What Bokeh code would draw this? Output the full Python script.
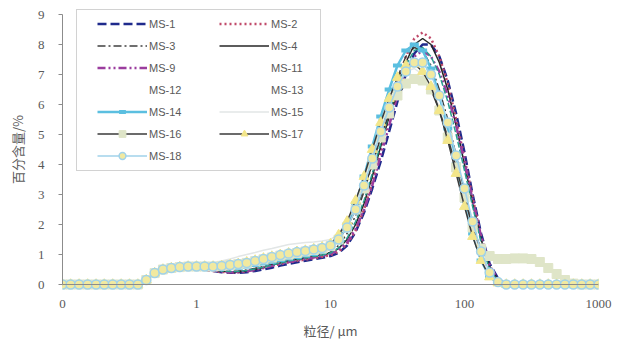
from bokeh.plotting import figure
from bokeh.models import Range1d, FixedTicker, Legend, LegendItem, Span
from bokeh.embed import file_html
from bokeh.resources import INLINE

# particle size grid (um)
size_um = [0.1, 0.115, 0.133, 0.154, 0.178, 0.205, 0.237, 0.274, 0.316, 0.365,
           0.422, 0.487, 0.562, 0.649, 0.75, 0.866, 1.0, 1.15, 1.33, 1.54,
           1.78, 2.05, 2.37, 2.74, 3.16, 3.65, 4.22, 4.87, 5.62, 6.49,
           7.5, 8.66, 10.0, 11.5, 13.3, 15.4, 17.8, 20.5, 23.7, 27.4,
           31.6, 36.5, 42.2, 48.7, 56.2, 64.9, 75.0, 86.6, 100, 115,
           133, 154, 178, 205, 237, 274, 316, 365, 422, 487,
           562, 649, 750, 866, 1000]

ms1 = [0, 0, 0, 0, 0, 0, 0, 0, 0, 0,
       0.15, 0.38, 0.5, 0.55, 0.57, 0.57, 0.55, 0.5, 0.45, 0.41,
       0.39, 0.39, 0.41, 0.45, 0.5, 0.56, 0.63, 0.69, 0.74, 0.79,
       0.84, 0.89, 0.95, 1.05, 1.3, 1.75, 2.4, 3.2, 4.1, 5.1,
       6.1, 7.0, 7.7, 8.0, 8.0, 7.6, 6.8, 5.7, 4.4, 3.0,
       1.7, 0.7, 0.2, 0, 0, 0, 0, 0, 0, 0,
       0, 0, 0, 0, 0]
ms2 = [0, 0, 0, 0, 0, 0, 0, 0, 0, 0,
       0.15, 0.38, 0.5, 0.55, 0.57, 0.57, 0.55, 0.5, 0.45, 0.42,
       0.4, 0.41, 0.43, 0.5, 0.56, 0.62, 0.68, 0.74, 0.79, 0.83,
       0.88, 0.92, 0.98, 1.1, 1.35, 1.8, 2.5, 3.4, 4.5, 5.6,
       6.7, 7.6, 8.2, 8.4, 8.2, 7.6, 6.7, 5.5, 4.2, 2.9,
       1.6, 0.6, 0.12, 0, 0, 0, 0, 0, 0, 0,
       0, 0, 0, 0, 0]
ms3 = [0, 0, 0, 0, 0, 0, 0, 0, 0, 0,
       0.15, 0.38, 0.5, 0.55, 0.57, 0.58, 0.57, 0.55, 0.5, 0.46,
       0.44, 0.45, 0.48, 0.54, 0.6, 0.67, 0.74, 0.8, 0.85, 0.9,
       0.95, 1.0, 1.08, 1.3, 1.7, 2.3, 3.1, 4.0, 5.0, 6.0,
       6.9, 7.6, 7.9, 7.8, 7.3, 6.5, 5.5, 4.3, 3.1, 1.9,
       0.9, 0.3, 0.05, 0, 0, 0, 0, 0, 0, 0,
       0, 0, 0, 0, 0]
ms4 = [0, 0, 0, 0, 0, 0, 0, 0, 0, 0,
       0.15, 0.38, 0.5, 0.55, 0.57, 0.58, 0.57, 0.55, 0.5, 0.45,
       0.42, 0.42, 0.45, 0.5, 0.57, 0.65, 0.72, 0.78, 0.83, 0.88,
       0.93, 0.98, 1.05, 1.2, 1.5, 2.0, 2.7, 3.6, 4.6, 5.6,
       6.6, 7.4, 8.0, 8.2, 8.0, 7.4, 6.5, 5.3, 4.0, 2.7,
       1.5, 0.6, 0.15, 0, 0, 0, 0, 0, 0, 0,
       0, 0, 0, 0, 0]
ms9 = [0, 0, 0, 0, 0, 0, 0, 0, 0, 0,
       0.15, 0.38, 0.5, 0.55, 0.57, 0.58, 0.56, 0.53, 0.48, 0.44,
       0.41, 0.41, 0.44, 0.49, 0.55, 0.62, 0.69, 0.75, 0.8, 0.85,
       0.9, 0.95, 1.02, 1.15, 1.4, 1.85, 2.5, 3.3, 4.3, 5.3,
       6.3, 7.1, 7.6, 7.8, 7.6, 7.1, 6.3, 5.3, 4.1, 2.8,
       1.6, 0.65, 0.15, 0, 0, 0, 0, 0, 0, 0,
       0, 0, 0, 0, 0]
ms11 = [0, 0, 0, 0, 0, 0, 0, 0, 0, 0,
        0.15, 0.38, 0.5, 0.55, 0.57, 0.58, 0.57, 0.54, 0.49, 0.45,
        0.43, 0.44, 0.47, 0.52, 0.58, 0.65, 0.72, 0.78, 0.83, 0.88,
        0.93, 0.98, 1.05, 1.22, 1.55, 2.1, 2.8, 3.7, 4.7, 5.7,
        6.6, 7.3, 7.8, 7.9, 7.6, 7.0, 6.1, 5.0, 3.8, 2.6,
        1.4, 0.5, 0.1, 0, 0, 0, 0, 0, 0, 0,
        0, 0, 0, 0, 0]
ms14 = [0, 0, 0, 0, 0, 0, 0, 0, 0, 0,
        0.15, 0.38, 0.5, 0.55, 0.58, 0.6, 0.6, 0.59, 0.58, 0.56,
        0.55, 0.56, 0.6, 0.65, 0.7, 0.76, 0.82, 0.87, 0.92, 0.97,
        1.02, 1.08, 1.2, 1.5, 2.0, 2.7, 3.6, 4.6, 5.6, 6.5,
        7.3, 7.8, 8.0, 7.8, 7.2, 6.3, 5.2, 4.0, 2.8, 1.7,
        0.8, 0.25, 0.05, 0, 0, 0, 0, 0, 0, 0,
        0, 0, 0, 0, 0]
ms15 = [0, 0, 0, 0, 0, 0, 0, 0, 0, 0,
        0.15, 0.38, 0.5, 0.56, 0.6, 0.62, 0.65, 0.68, 0.72, 0.78,
        0.85, 0.93, 1.0, 1.07, 1.14, 1.2, 1.27, 1.33, 1.37, 1.4,
        1.42, 1.45, 1.5, 1.7, 2.1, 2.7, 3.5, 4.4, 5.3, 6.1,
        6.7, 7.1, 7.2, 7.0, 6.6, 5.9, 5.0, 4.0, 2.9, 1.8,
        0.9, 0.3, 0.05, 0, 0, 0, 0, 0, 0, 0,
        0, 0, 0, 0, 0]
ms16 = [0, 0, 0, 0, 0, 0, 0, 0, 0, 0,
        0.15, 0.38, 0.5, 0.55, 0.58, 0.6, 0.6, 0.6, 0.6, 0.62,
        0.65, 0.68, 0.72, 0.78, 0.84, 0.9, 0.96, 1.0, 1.05, 1.1,
        1.15, 1.2, 1.28, 1.5, 1.9, 2.5, 3.2, 4.0, 4.9, 5.7,
        6.3, 6.7, 6.85, 6.8, 6.5, 5.8, 4.9, 3.9, 2.9, 1.9,
        1.2, 0.95, 0.85, 0.85, 0.87, 0.87, 0.85, 0.75, 0.55, 0.35,
        0.15, 0.03, 0, 0, 0]
ms17 = [0, 0, 0, 0, 0, 0, 0, 0, 0, 0,
        0.15, 0.38, 0.5, 0.55, 0.58, 0.6, 0.6, 0.6, 0.6, 0.62,
        0.65, 0.69, 0.74, 0.8, 0.87, 0.93, 0.99, 1.04, 1.09, 1.13,
        1.18, 1.24, 1.35, 1.65, 2.1, 2.8, 3.6, 4.5, 5.4, 6.2,
        6.9, 7.3, 7.35, 7.1, 6.6, 5.8, 4.8, 3.7, 2.6, 1.6,
        0.8, 0.25, 0.05, 0, 0, 0, 0, 0, 0, 0,
        0, 0, 0, 0, 0]
ms18 = [0, 0, 0, 0, 0, 0, 0, 0, 0, 0,
        0.15, 0.38, 0.5, 0.55, 0.58, 0.6, 0.6, 0.6, 0.6, 0.62,
        0.65, 0.68, 0.72, 0.78, 0.85, 0.92, 0.98, 1.03, 1.08, 1.12,
        1.17, 1.22, 1.3, 1.5, 1.9, 2.5, 3.3, 4.2, 5.1, 5.9,
        6.6, 7.1, 7.4, 7.4, 7.0, 6.3, 5.4, 4.3, 3.2, 2.1,
        1.1, 0.4, 0.08, 0, 0, 0, 0, 0, 0, 0,
        0, 0, 0, 0, 0]

y_ticks = [0, 1, 2, 3, 4, 5, 6, 7, 8, 9]
x_ticks = [0.1, 1, 10, 100, 1000]
x_tick_labels = ["0", "1", "10", "100", "1000"]

p = figure(width=624, height=346, x_axis_type="log", title=None,
           x_range=Range1d(0.1, 1000), y_range=Range1d(-0.2, 9.2),
           output_backend="svg", toolbar_location=None,
           min_border_left=62, min_border_right=26, min_border_top=8, min_border_bottom=56)
p.outline_line_color = None
p.grid.visible = False
p.background_fill_color = "white"

axis_grey = "#8c8c8c"
text_grey = "#595959"

# y axis
p.yaxis.ticker = FixedTicker(ticks=y_ticks)
p.yaxis.bounds = (0, 9)
p.yaxis.axis_line_color = axis_grey
p.yaxis.major_tick_line_color = axis_grey
p.yaxis.major_tick_out = 4
p.yaxis.major_tick_in = 0
p.yaxis.minor_tick_line_color = None
p.yaxis.major_label_standoff = 14
p.yaxis.axis_label = "百分含量/%"
p.yaxis.axis_label_standoff = 8

# x axis
p.xaxis.ticker = FixedTicker(ticks=x_ticks)
p.xaxis.major_label_overrides = {t: l for t, l in zip(x_ticks, x_tick_labels)}
p.xaxis.axis_line_color = None
p.xaxis.major_tick_line_color = None
p.xaxis.minor_tick_line_color = None
p.xaxis.major_label_standoff = 3
p.xaxis.axis_label = "粒径/ μm"
p.xaxis.axis_label_standoff = 10

for ax in (p.xaxis, p.yaxis):
    ax.major_label_text_font = "Liberation Serif"
    ax.major_label_text_font_size = "13px"
    ax.major_label_text_color = text_grey
    ax.axis_label_text_font = "Noto Sans CJK SC"
    ax.axis_label_text_font_size = "13px"
    ax.axis_label_text_font_style = "normal"
    ax.axis_label_text_color = text_grey

# horizontal category axis line at zero
p.add_layout(Span(location=0, dimension="width", line_color=axis_grey, line_width=1))

series = [
    ("MS-1", ms1, dict(line_color="#1f2a8c", line_width=2.5, line_dash="9 4"), None),
    ("MS-2", ms2, dict(line_color="#c04a6a", line_width=2.5, line_dash="2 3"), None),
    ("MS-3", ms3, dict(line_color="#404040", line_width=1.5, line_dash="8 3 2 3"), None),
    ("MS-4", ms4, dict(line_color="#262626", line_width=1.5), None),
    ("MS-9", ms9, dict(line_color="#9b3d9e", line_width=2.5, line_dash="8 3 2 3 2 3"), None),
    ("MS-11", ms11, dict(line_color="#2a9d90", line_width=1.5, line_dash="6 2"), None),
    ("MS-14", ms14, dict(line_color="#5bbfe0", line_width=2.5),
     dict(marker="dash", size=9, line_color="#5bbfe0", line_width=4)),
    ("MS-15", ms15, dict(line_color="#e2e6e6", line_width=1.5), None),
    ("MS-16", ms16, dict(line_color="#3a3a3a", line_width=1.5),
     dict(marker="square", size=9, fill_color="#dfe5c8", line_color="#dfe5c8")),
    ("MS-17", ms17, dict(line_color="#3a3a3a", line_width=1.5),
     dict(marker="triangle", size=10, fill_color="#f3e68a", line_color="#f3e68a")),
    ("MS-18", ms18, dict(line_color="#a0d2ea", line_width=1.5),
     dict(marker="circle", size=9, fill_color="#f1e9a0", line_color="#a0d2ea", line_width=1.5)),
]

renderers = {}
for name, ys, lstyle, mstyle in series:
    rs = [p.line(size_um, ys, **lstyle)]
    if mstyle is not None:
        rs.append(p.scatter(size_um, ys, **mstyle))
    renderers[name] = rs

# legend entries with no visible glyph
blank = p.line(x=[], y=[], line_alpha=0)

# legend frame (an empty legend used only for its border box)
frame_legend = Legend(items=[LegendItem(label=" ", renderers=[blank])],
                      location=(14, 119), glyph_width=243, glyph_height=160,
                      label_height=0, label_width=0, label_standoff=0,
                      padding=0, margin=0, spacing=0,
                      border_line_color="#a6a6a6", border_line_width=1,
                      background_fill_color="white", background_fill_alpha=1,
                      label_text_font_size="1px")
p.add_layout(frame_legend)

legend_names_col1 = ["MS-1", "MS-3", "MS-9", "MS-12", "MS-14", "MS-16", "MS-18"]
legend_names_col2 = ["MS-2", "MS-4", "MS-11", "MS-13", "MS-15", "MS-17"]


def make_items(names):
    items = []
    for n in names:
        if n in renderers and n != "MS-11":
            items.append(LegendItem(label=n, renderers=renderers[n]))
        else:
            items.append(LegendItem(label=n, renderers=[blank]))
    return items


common = dict(glyph_width=50, glyph_height=17, label_height=17, spacing=5,
              padding=0, margin=0, label_standoff=2,
              border_line_alpha=0, background_fill_alpha=0,
              label_text_font="Liberation Sans", label_text_font_size="11px",
              label_text_color=text_grey)
leg1 = Legend(items=make_items(legend_names_col1), location=(35, 126), **common)
leg2 = Legend(items=make_items(legend_names_col2), location=(157, 148), **common)
p.add_layout(leg1)
p.add_layout(leg2)

open("out.html", "w").write(file_html(p, INLINE))
